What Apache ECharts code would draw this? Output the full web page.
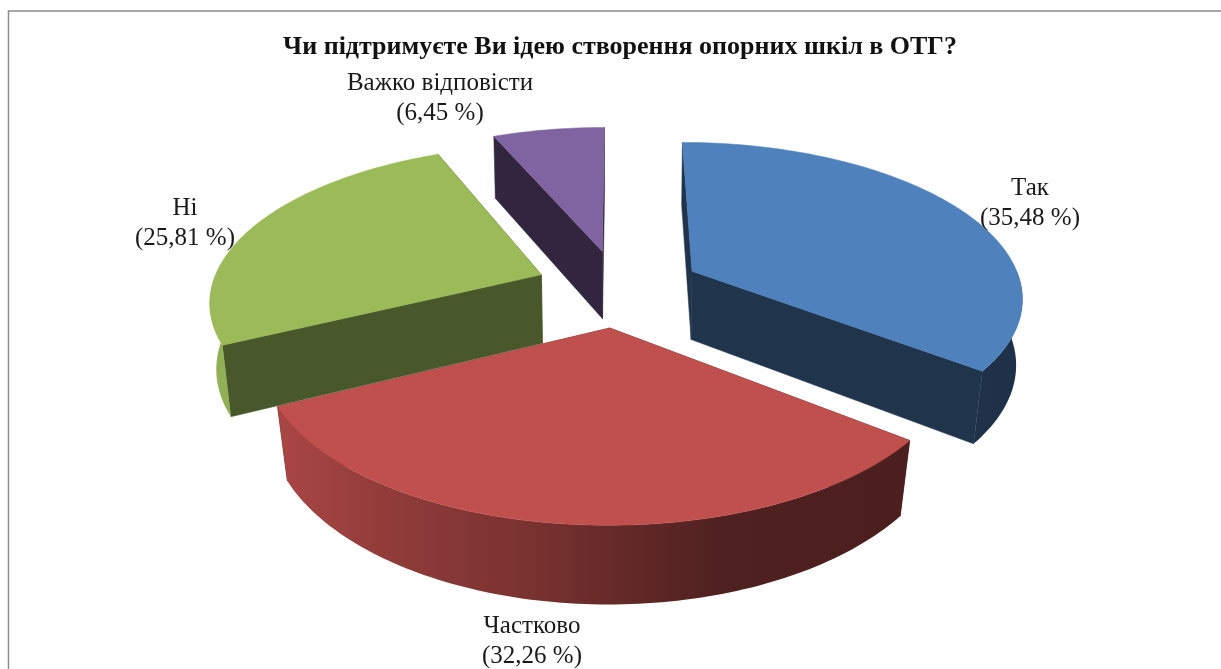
<!DOCTYPE html>
<html>
<head>
<meta charset="utf-8">
<title>Опорні школи</title>
<style>
    html, body { margin: 0; padding: 0; background: #fff; }
    #chart { width: 1221px; height: 669px; }
</style>
<script src="https://cdn.jsdelivr.net/npm/echarts@6/dist/echarts.min.js"></script>
</head>
<body>
<div id="chart"></div>
<script>
const chartTitle = 'Чи підтримуєте Ви ідею створення опорних шкіл в ОТГ?';
const categories = ['Так', 'Частково', 'Ні', 'Важко відповісти'];
const percents = [35.48, 32.26, 25.81, 6.45];

// office colours, top face of each slice
const sliceColors = ['#4F81BD', '#C0504D', '#9BBB59', '#8064A2'];
const radialShade = [0.4, 0.4, 0.47, 0.38];
// back to front, echarts has no real 3d pie so we paint it ourselves
const paintOrder = [2, 3, 1, 0];
// label middle (x, first line top)
const labelSpots = [[1030, 173], [532, 611], [185, 193], [440, 68]];

// perspective of the pie, fitted on the picture
const CX = 618.5, CY = 288;
const RADIUS = 337, EXPLODE = 85;
const TILT = 0.455, CAMERA = 2200, X_SQUEEZE = 0.98;
const DEPTH = 69;

// side light goes from left to right: [x, brightness]
const sideLight = [[213, 0.95], [280, 0.88], [400, 0.74], [520, 0.64], [640, 0.5], [720, 0.41], [1022, 0.38]];

const total = percents.reduce((a, b) => a + b, 0);

function shade(hex, k) {
    const n = parseInt(hex.slice(1), 16);
    const r = Math.round((n >> 16) * k);
    const g = Math.round(((n >> 8) & 255) * k);
    const b = Math.round((n & 255) * k);
    return `rgb(${r},${g},${b})`;
}

// ground point -> screen, bottom = true gives the lower plane of the slice
function project(x, y, bottom) {
    const s = CAMERA / (CAMERA - y);
    const px = x * s * X_SQUEEZE;
    const py = y * s * TILT;
    if (!bottom) return [CX + px, CY + py];
    // lower plane is further from camera, shrinks more in the front
    const shrink = 0.988 - Math.max(0, s - 0.98) * 0.12;
    return [CX + px * shrink, CY + py + DEPTH * Math.pow(s, 0.65)];
}

function sliceAngles(index) {
    let before = 0;
    for (let i = 0; i < index; i++) before += percents[i];
    const start = before / total * Math.PI * 2;
    return [start, start + percents[index] / total * Math.PI * 2];
}

function renderSlice(params, api) {
    const i = params.dataIndex;
    const [start, end] = sliceAngles(i);
    const mid = (start + end) / 2;
    const ox = Math.sin(mid) * EXPLODE;
    const oy = -Math.cos(mid) * EXPLODE;
    const color = sliceColors[i];
    const z = paintOrder[i] * 10;

    const rim = [];
    const front = [];
    const steps = Math.ceil((end - start) / 0.02);
    for (let k = 0; k <= steps; k++) {
        const a = start + (end - start) * k / steps;
        const p = [ox + Math.sin(a) * RADIUS, oy - Math.cos(a) * RADIUS];
        rim.push(p);
        // only the part of the rim turned to the viewer has a side wall
        if (Math.cos(a) < 0) front.push(p);
    }
    const rimTop = rim.map(p => project(p[0], p[1], false));
    const rimBottom = rim.map(p => project(p[0], p[1], true));
    const apexTop = project(ox, oy, false);
    const apexBottom = project(ox, oy, true);

    const faceFill = shade(color, radialShade[i]);
    const face = (t, b) => ({
        type: 'polygon',
        z2: z,
        shape: { points: [apexTop, t, b, apexBottom] },
        style: { fill: faceFill, stroke: faceFill, lineWidth: 0.5 }
    });

    const x0 = sideLight[0][0];
    const x1 = sideLight[sideLight.length - 1][0];
    const sideFill = new echarts.graphic.LinearGradient(x0, 0, x1, 0, sideLight.map(s => ({
        offset: (s[0] - x0) / (x1 - x0),
        color: shade(color, s[1])
    })), true);

    const frontTop = front.map(p => project(p[0], p[1], false));
    const frontBottom = front.map(p => project(p[0], p[1], true));

    const value = api.value(0);
    const spot = labelSpots[i];

    const children = [
        face(rimTop[0], rimBottom[0]),
        face(rimTop[rimTop.length - 1], rimBottom[rimBottom.length - 1]),
        {
            type: 'polygon',
            z2: z + 2,
            shape: { points: [apexTop].concat(rimTop) },
            style: { fill: color, stroke: color, lineWidth: 0.5 }
        },
        {
            type: 'text',
            z2: 100,
            x: spot[0],
            y: spot[1],
            style: {
                text: `${categories[i]}\n(${value.toFixed(2).replace('.', ',')} %)`,
                fill: '#1a1a1a',
                font: '25px "Liberation Serif", serif',
                lineHeight: 30,
                align: 'center',
                verticalAlign: 'top'
            }
        }
    ];
    if (front.length > 1) {
        children.push({
            type: 'polygon',
            z2: z + 1,
            shape: { points: frontTop.concat(frontBottom.slice().reverse()) },
            style: { fill: sideFill }
        });
    }

    return { type: 'group', children: children };
}

const chart = echarts.init(document.getElementById('chart'));

chart.setOption({
    animation: false,
    backgroundColor: '#fff',
    title: {
        text: chartTitle,
        left: 615,
        top: 29,
        textAlign: 'center',
        textStyle: {
            fontFamily: '"Liberation Serif", serif',
            fontSize: 26,
            fontWeight: 'bold',
            color: '#111'
        }
    },
    tooltip: {
        formatter: p => `${categories[p.dataIndex]}: ${p.value} %`
    },
    graphic: [{
        type: 'polyline',
        silent: true,
        shape: { points: [[8.5, 669], [8.5, 11], [1221, 11]] },
        style: { fill: null, stroke: '#8c8c8c', lineWidth: 1.5 }
    }],
    series: [{
        type: 'custom',
        coordinateSystem: 'none',
        renderItem: renderSlice,
        data: percents.map(v => [v])
    }]
});
</script>
</body>
</html>
